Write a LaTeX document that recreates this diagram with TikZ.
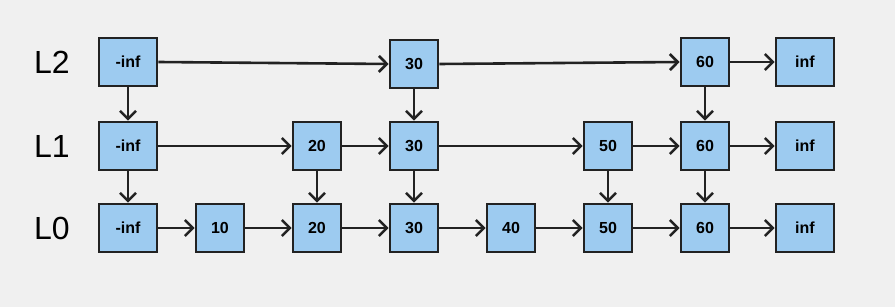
\documentclass[tikz,border=0pt]{standalone}
\usepackage{fontspec}
\setmainfont{Liberation Sans}
\usetikzlibrary{arrows.meta}
\definecolor{bg}{HTML}{F0F0F0}
\definecolor{boxfill}{HTML}{9DCBF0}
\definecolor{ink}{HTML}{222222}
\begin{document}
\begin{tikzpicture}[x=1pt,y=1pt,
  nbox/.style={draw=ink, fill=boxfill, line width=2.6pt, minimum width=48pt, minimum height=48pt, inner sep=0pt, font=\bfseries\fontsize{16}{16}\selectfont, text=black},
  wbox/.style={nbox, minimum width=58pt},
  lvl/.style={font=\fontsize{32}{32}\selectfont, text=black},
  conn/.style={draw=ink, line width=2.6pt, -{Straight Barb[length=8pt,width=16pt,line width=2.6pt]}}
]
\fill[bg] (0,0) rectangle (895,-307);
\useasboundingbox (0,0) rectangle (895,-307);
% labels
\node[lvl] (lab2) at (52,-62) {L2};
\node[lvl] (lab1) at (52,-146) {L1};
\node[lvl] (lab0) at (52,-228) {L0};
% L2
\node[wbox] (a2) at (128,-62) {-inf};
\node[nbox] (c2) at (414,-64) {30};
\node[nbox] (f2) at (705,-62) {60};
\node[wbox] (z2) at (805,-62) {inf};
% L1
\node[wbox] (a1) at (128,-146) {-inf};
\node[nbox] (b1) at (317,-146) {20};
\node[nbox] (c1) at (414,-146) {30};
\node[nbox] (e1) at (608,-146) {50};
\node[nbox] (f1) at (705,-146) {60};
\node[wbox] (z1) at (805,-146) {inf};
% L0
\node[wbox] (a0) at (128,-228) {-inf};
\node[nbox] (t0) at (220,-228) {10};
\node[nbox] (b0) at (317,-228) {20};
\node[nbox] (c0) at (414,-228) {30};
\node[nbox] (d0) at (511,-228) {40};
\node[nbox] (e0) at (608,-228) {50};
\node[nbox] (f0) at (705,-228) {60};
\node[wbox] (z0) at (805,-228) {inf};
% L2 horizontal
\draw[conn] (a2.east) -- (c2.west);
\draw[conn] (c2.east) -- (f2.west);
\draw[conn] (f2.east) -- (z2.west);
% L1 horizontal
\draw[conn] (a1.east) -- (b1.west);
\draw[conn] (b1.east) -- (c1.west);
\draw[conn] (c1.east) -- (e1.west);
\draw[conn] (e1.east) -- (f1.west);
\draw[conn] (f1.east) -- (z1.west);
% L0 horizontal
\draw[conn] (a0.east) -- (t0.west);
\draw[conn] (t0.east) -- (b0.west);
\draw[conn] (b0.east) -- (c0.west);
\draw[conn] (c0.east) -- (d0.west);
\draw[conn] (d0.east) -- (e0.west);
\draw[conn] (e0.east) -- (f0.west);
\draw[conn] (f0.east) -- (z0.west);
% verticals
\draw[conn] (a2.south) -- (a1.north);
\draw[conn] (c2.south) -- (c1.north);
\draw[conn] (f2.south) -- (f1.north);
\draw[conn] (a1.south) -- (a0.north);
\draw[conn] (b1.south) -- (b0.north);
\draw[conn] (c1.south) -- (c0.north);
\draw[conn] (e1.south) -- (e0.north);
\draw[conn] (f1.south) -- (f0.north);
\end{tikzpicture}
\end{document}
